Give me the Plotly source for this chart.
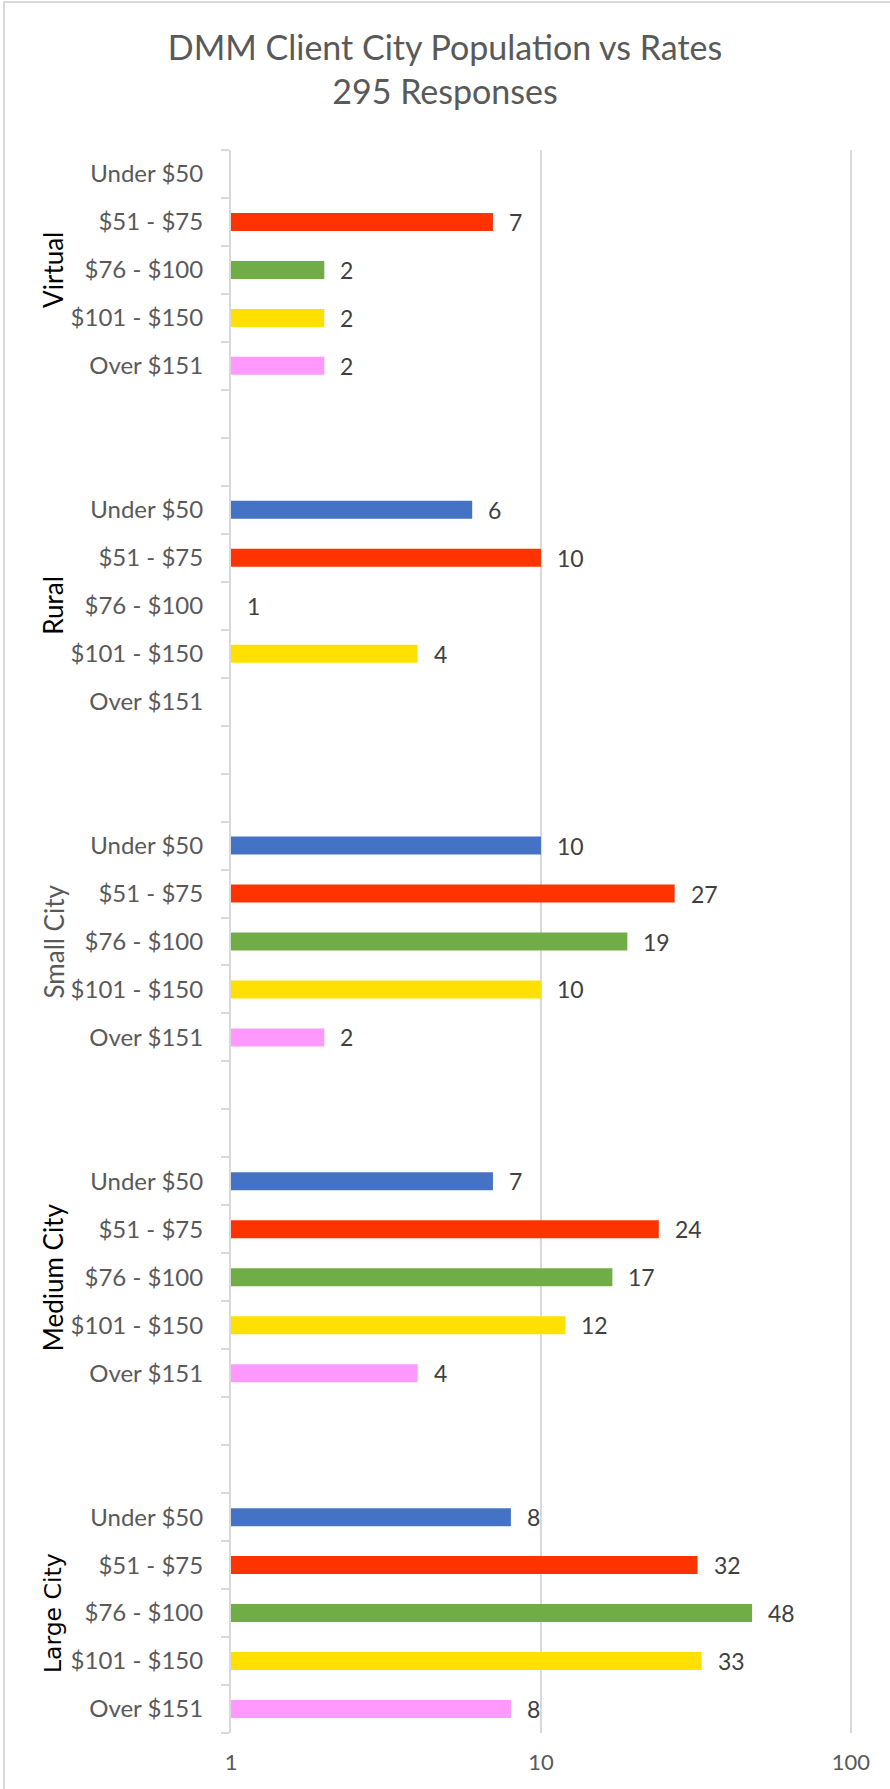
import numpy as np
import plotly.graph_objects as go

groups = ["Virtual", "Rural", "Small City", "Medium City", "Large City"]
rates = ["Under $50", "$51 - $75", "$76 - $100", "$101 - $150", "Over $151"]
rate_colors = ["#4472C4", "#FF3300", "#70AD47", "#FFE000", "#FF99FF"]

virtual = [None, 7, 2, 2, 2]
rural = [6, 10, 1, 4, None]
small_city = [10, 27, 19, 10, 2]
medium_city = [7, 24, 17, 12, 4]
large_city = [8, 32, 48, 33, 8]
values = [virtual, rural, small_city, medium_city, large_city]

x_ticks = [1, 10, 100]

# category slots: 5 rates per group + 2 blank slots between groups
keys, labels = [], []
for gi, g in enumerate(groups):
    for r in rates:
        keys.append(f"{g}|{r}")
        labels.append(r)
    if gi < len(groups) - 1:
        for j in range(2):
            keys.append(f"gap{gi}_{j}")
            labels.append("")

GRID = "#D9D9D9"
FONT = "Lato"

fig = go.Figure()
annotations = []
for ri, r in enumerate(rates):
    ys, xs = [], []
    for gi, g in enumerate(groups):
        v = values[gi][ri]
        if v is None:
            continue
        ys.append(f"{g}|{r}")
        xs.append(v)
        annotations.append(dict(
            x=np.log10(v), y=f"{g}|{r}", xref="x", yref="y",
            text=str(v), showarrow=False, xanchor="left", yanchor="middle",
            xshift=14, font=dict(family=FONT, size=23, color="#404040")))
    fig.add_trace(go.Bar(
        x=xs, y=ys, orientation="h", name=r,
        marker=dict(color=rate_colors[ri], line=dict(width=0)),
        width=0.375, showlegend=False, hoverinfo="x+y"))

# group labels
group_styles = {
    "Virtual": dict(family=FONT, size=26, color="#000000"),
    "Rural": dict(family=FONT, size=26, color="#000000"),
    "Small City": dict(family=FONT, size=26, color="#595959"),
    "Medium City": dict(family=FONT, size=26, color="#000000"),
    "Large City": dict(family="DejaVu Sans", size=23.5, color="#000000"),
}
L, R, T, B = 231, 36, 150, 56
W, H = 890, 1789
pw, ph = W - L - R, H - T - B
for g in groups:
    annotations.append(dict(
        x=(53 - L) / pw, xref="paper", y=f"{g}|{rates[2]}", yref="y",
        text=g, textangle=-90, showarrow=False,
        xanchor="center", yanchor="middle", font=group_styles[g]))

def px_x(p):
    return (p - L) / pw

def px_y(p):
    return (H - B - p) / ph

shapes = [
    dict(type="line", xref="paper", yref="paper", x0=px_x(3), x1=px_x(892),
         y0=px_y(2), y1=px_y(2), line=dict(color=GRID, width=2)),
    dict(type="line", xref="paper", yref="paper", x0=px_x(4), x1=px_x(4),
         y0=px_y(2), y1=px_y(1792), line=dict(color=GRID, width=2)),
]

fig.update_layout(
    width=W, height=H,
    margin=dict(l=L, r=R, t=T, b=B, pad=0),
    paper_bgcolor="white", plot_bgcolor="white",
    title=dict(text="DMM Client City Population vs Rates<br>295 Responses",
               x=0.5, xref="container", xanchor="center",
               y=1 - 60 / H, yref="container", yanchor="middle",
               font=dict(family=FONT, size=34, color="#595959")),
    xaxis=dict(type="log", range=[0, 2.01], tickmode="array", tickvals=x_ticks,
               ticktext=[str(t) for t in x_ticks], showgrid=True,
               gridcolor=GRID, gridwidth=1.5, zeroline=False, showline=False,
               ticks="", tickfont=dict(family=FONT, size=22, color="#595959"),
               ticklabelstandoff=14),
    yaxis=dict(type="category", categoryorder="array", categoryarray=keys,
               range=[len(keys) - 0.5, -0.5], tickmode="array", tickvals=keys,
               ticktext=labels, tickson="boundaries", ticks="outside",
               ticklen=8, tickcolor=GRID, tickwidth=1.5, showline=True,
               linecolor=GRID, linewidth=2, showgrid=False, zeroline=False,
               tickfont=dict(family=FONT, size=24, color="#595959"),
               ticklabelstandoff=21),
    bargap=0.625,
    annotations=annotations,
    shapes=shapes,
)

fig.write_html("out.html", config={"displayModeBar": False},
               post_script="document.body.style.margin='0';")
